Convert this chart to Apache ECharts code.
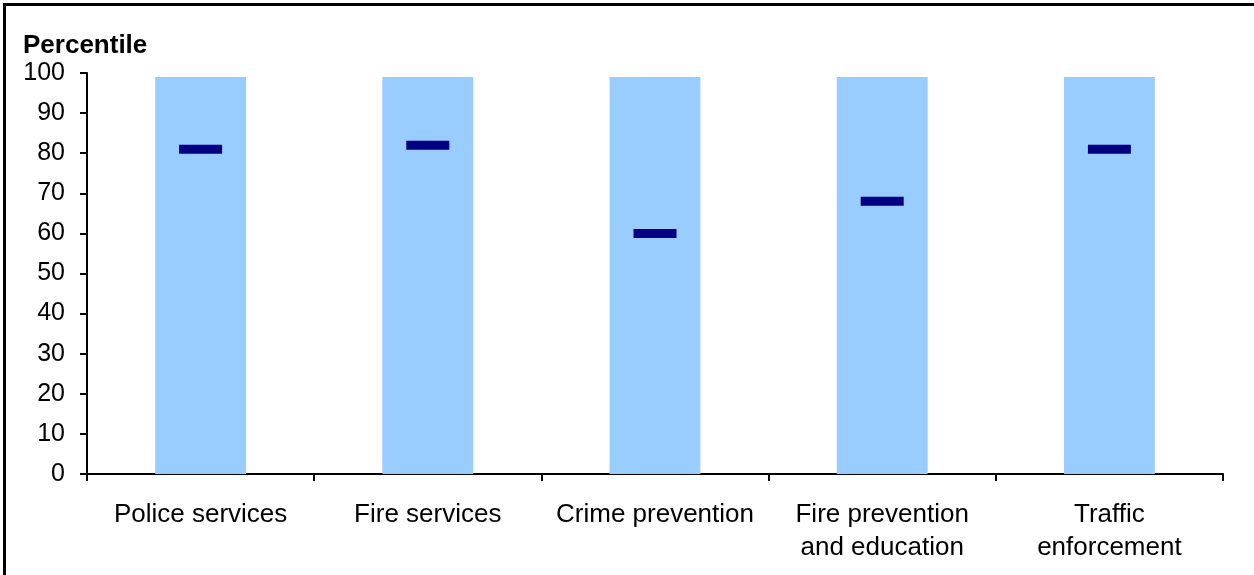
<!DOCTYPE html>
<html>
<head>
<meta charset="utf-8">
<script src="https://cdn.jsdelivr.net/npm/echarts@6/dist/echarts.min.js"></script>
<style>
html,body{margin:0;padding:0;background:#fff;}
#chart{width:1254px;height:575px;}
</style>
</head>
<body>
<div id="chart"></div>
<script>
const categories = ['Police services', 'Fire services', 'Crime prevention', 'Fire prevention\nand education', 'Traffic\nenforcement'];
const rangeTop = [99, 99, 99, 99, 99];
const percentile = [81, 82, 60, 68, 81];
const yTicks = [0, 10, 20, 30, 40, 50, 60, 70, 80, 90, 100];

const chart = echarts.init(document.getElementById('chart'), null, {renderer: 'canvas'});
const font = 'Liberation Sans, Arial, sans-serif';
chart.setOption({
  animation: false,
  backgroundColor: '#ffffff',
  title: {
    text: 'Percentile',
    left: 18, top: 28,
    textStyle: {fontFamily: font, fontSize: 26, fontWeight: 'bold', color: '#000'}
  },
  grid: {left: 87, right: 31, top: 73, bottom: 101, containLabel: false},
  xAxis: {
    type: 'category',
    data: categories,
    axisLine: {lineStyle: {color: '#000', width: 2}},
    axisTick: {show: true, length: 7, lineStyle: {color: '#000', width: 2}},
    axisLabel: {fontFamily: font, fontSize: 26, color: '#000', margin: 24, lineHeight: 33, interval: 0}
  },
  yAxis: {
    type: 'value',
    min: yTicks[0], max: yTicks[yTicks.length - 1], interval: 10,
    splitLine: {show: false},
    axisLine: {show: true, lineStyle: {color: '#000', width: 2}},
    axisTick: {show: true, length: 7, lineStyle: {color: '#000', width: 2}},
    axisLabel: {fontFamily: font, fontSize: 25, color: '#000', margin: 22}
  },
  series: [
    {
      type: 'bar',
      data: rangeTop,
      barWidth: '40%',
      itemStyle: {color: '#99CCFF'},
      silent: true
    },
    {
      type: 'scatter',
      data: percentile,
      symbol: 'rect',
      symbolSize: [43, 9],
      itemStyle: {color: '#000080', opacity: 1, borderRadius: 2},
      z: 5
    }
  ],
  graphic: [
    {type: 'line', shape: {x1: 3, y1: 4.5, x2: 1254, y2: 4.5}, style: {stroke: '#000', lineWidth: 3}},
    {type: 'line', shape: {x1: 4.5, y1: 3, x2: 4.5, y2: 575}, style: {stroke: '#000', lineWidth: 3}}
  ]
});
</script>
</body>
</html>
